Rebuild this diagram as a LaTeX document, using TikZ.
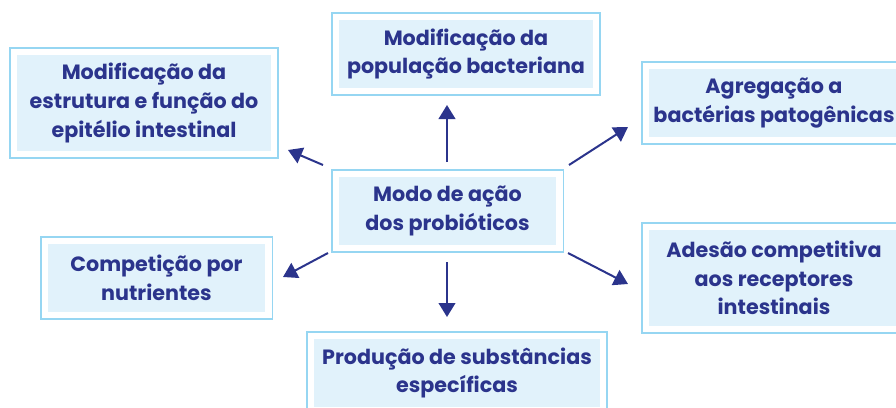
\documentclass[tikz,border=0pt]{standalone}
\usepackage{fontspec}
\setmainfont{Poppins}
\usetikzlibrary{arrows.meta}
\definecolor{navy}{RGB}{43,52,140}
\definecolor{boxfill}{RGB}{225,242,251}
\definecolor{boxline}{RGB}{150,214,242}
\tikzset{
  inbox/.style={fill=boxfill, inner sep=0pt, align=center, text=navy,
    font=\fontsize{15.5pt}{21.5pt}\selectfont\bfseries},
  wide/.style={minimum width=190.5pt},
  narrow/.style={minimum width=163pt},
  short/.style={minimum height=51pt},
  tall/.style={minimum height=72pt},
  frame/.style={draw=boxline, line width=1.3pt},
  conn/.style={draw=navy, line width=1.5pt, -{Triangle[length=10.5pt,width=12.5pt]}}
}
\begin{document}
\begin{tikzpicture}[x=0.75pt,y=-0.75pt]
\useasboundingbox (0,0) rectangle (896,407);
\clip (0,0) rectangle (896,407);
% boxes (inner filled part)
\node[inbox, wide, short] (pop) at (466,54) {Modificação da\\população bacteriana};
\node[inbox, wide, tall] (epit) at (144,103) {Modificação da\\estrutura e função do\\epitélio intestinal};
\node[inbox, minimum width=187.5pt, short] (agreg) at (774,103) {Agregação a\\bactérias patogênicas};
\node[inbox, narrow, short] (modo) at (447.5,211) {Modo de ação\\dos probióticos};
\node[inbox, narrow, short] (comp) at (156.5,278) {Competição por\\nutrientes};
\node[inbox, minimum width=187.5pt, tall] (ades) at (774,278) {Adesão competitiva\\aos receptores\\intestinais};
\node[inbox, minimum width=214.5pt, short] (prod) at (457,373) {Produção de substâncias\\específicas};
% outer frames
\foreach \n in {pop,epit,agreg,modo,comp,ades,prod}{
  \draw[frame] ([xshift=-5.2pt,yshift=-5.2pt]\n.south west) rectangle ([xshift=5.2pt,yshift=5.2pt]\n.north east);
}
% arrow end points
\coordinate (upS) at (447,162);  \coordinate (upE) at (447,105);
\coordinate (dnS) at (447,262);  \coordinate (dnE) at (447,317);
\coordinate (ulS) at (323,165);  \coordinate (ulE) at (288,150);
\coordinate (llS) at (328,253);  \coordinate (llE) at (283,277);
\coordinate (urS) at (569,165);  \coordinate (urE) at (628,127);
\coordinate (lrS) at (568,253);  \coordinate (lrE) at (628,284);
\draw[conn] (upS) -- (upE);
\draw[conn] (dnS) -- (dnE);
\draw[conn] (ulS) -- (ulE);
\draw[conn] (llS) -- (llE);
\draw[conn] (urS) -- (urE);
\draw[conn] (lrS) -- (lrE);
\end{tikzpicture}
\end{document}
